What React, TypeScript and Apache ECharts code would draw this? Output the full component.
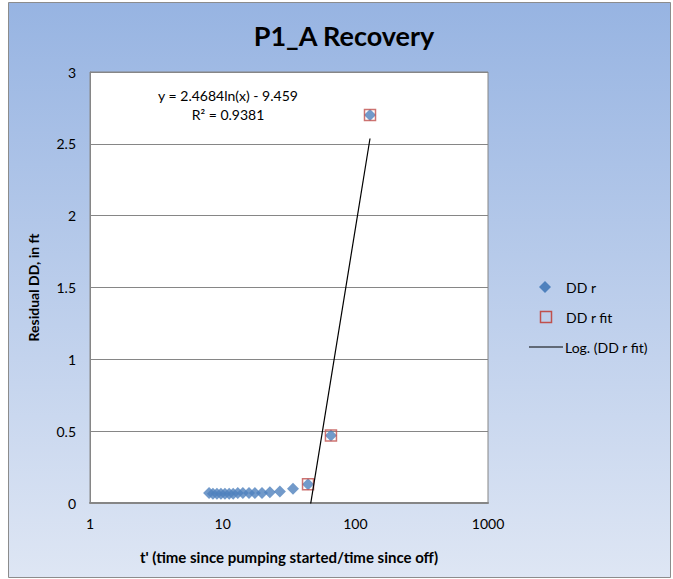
import { useEffect, useRef } from "react";
import * as echarts from "echarts";

const chartTitle = "P1_A Recovery";
const xAxisName = "t' (time since pumping started/time since off)";
const yAxisName = "Residual DD, in ft";

const ddrX = [7.9, 8.45, 9.05, 9.7, 10.4, 11.2, 12.0, 13.0, 14.2, 15.8, 17.5, 19.8, 22.7, 27.0, 33.9, 44.0, 65.5, 129];
const ddrY = [0.07, 0.065, 0.065, 0.065, 0.065, 0.065, 0.065, 0.07, 0.07, 0.07, 0.07, 0.07, 0.075, 0.08, 0.1, 0.13, 0.47, 2.7];
const fitX = [44.0, 65.5, 129];
const fitY = [0.13, 0.47, 2.7];
const trendA = 2.4684;
const trendB = -9.459;
const eqText = "y = 2.4684ln(x) - 9.459";
const r2Text = "R² = 0.9381";
const legendNames = ["DD r", "DD r fit", "Log. (DD r fit)"];

const FONT = "Lato, 'Liberation Sans', sans-serif";

export default function App() {
  const ref = useRef<HTMLDivElement>(null);
  useEffect(() => {
    if (!ref.current) return;
    const chart = echarts.init(ref.current, undefined, { renderer: "svg" });
    const xs = [fitX[0], fitX[fitX.length - 1]];
    const trend = xs.map((x) => [x, trendA * Math.log(x) + trendB]);
    const lgY = [287, 317, 347];
    const textStyle = (t: string) => ({
      text: t,
      fontFamily: FONT,
      fontSize: 14,
      fill: "#000",
      textAlign: "left",
      textVerticalAlign: "middle",
    });
    chart.setOption({
      animation: false,
      textStyle: { fontFamily: FONT, color: "#000" },
      title: {
        text: chartTitle,
        left: 339,
        top: 17,
        textAlign: "center",
        textStyle: { fontFamily: FONT, fontSize: 27, fontWeight: "bold", color: "#000" },
      },
      graphic: [
        {
          type: "rect",
          z: -10,
          silent: true,
          shape: { x: 8.5, y: 2.5, width: 662, height: 575 },
          style: {
            fill: new echarts.graphic.LinearGradient(0, 0, 0, 1, [
              { offset: 0, color: "#97b4e2" },
              { offset: 1, color: "#dee6f4" },
            ]),
            stroke: "#8c8c8c",
            lineWidth: 1,
          },
        },
        {
          type: "text",
          x: 228,
          y: 95,
          z: 10,
          style: { text: eqText, fontFamily: FONT, fontSize: 14, fill: "#000", textAlign: "center", textVerticalAlign: "middle" },
        },
        {
          type: "text",
          x: 228,
          y: 114,
          z: 10,
          style: { text: r2Text, fontFamily: FONT, fontSize: 14, fill: "#000", textAlign: "center", textVerticalAlign: "middle" },
        },
        {
          type: "polygon",
          z: 10,
          shape: { points: [[545, lgY[0] - 6], [551, lgY[0]], [545, lgY[0] + 6], [539, lgY[0]]] },
          style: { fill: "#4f81bd" },
        },
        {
          type: "rect",
          z: 10,
          shape: { x: 540.5, y: lgY[1] - 5.5, width: 11, height: 11 },
          style: { fill: "none", stroke: "#c0504d", lineWidth: 1.5 },
        },
        {
          type: "line",
          z: 10,
          shape: { x1: 529, y1: lgY[2], x2: 563, y2: lgY[2] },
          style: { stroke: "#000", lineWidth: 1.2 },
        },
        { type: "text", x: 566, y: lgY[0], z: 10, style: textStyle(legendNames[0]) },
        { type: "text", x: 566, y: lgY[1], z: 10, style: textStyle(legendNames[1]) },
        { type: "text", x: 565, y: lgY[2], z: 10, style: textStyle(legendNames[2]) },
      ],
      grid: {
        left: 90,
        top: 72,
        right: 185,
        bottom: 76,
        show: true,
        backgroundColor: "#ffffff",
        borderColor: "#868686",
        borderWidth: 1,
      },
      xAxis: {
        type: "log",
        logBase: 10,
        min: 1,
        max: 1000,
        name: xAxisName,
        nameLocation: "middle",
        nameGap: 46,
        nameTextStyle: { fontFamily: FONT, fontSize: 15, fontWeight: "bold", color: "#000" },
        axisLine: { show: true, lineStyle: { color: "#868686", width: 2 } },
        axisTick: { show: false },
        axisLabel: {
          fontFamily: FONT,
          fontSize: 14,
          color: "#000",
          margin: 13,
          formatter: (v: number) => String(Math.round(v)),
        },
        splitLine: { show: false },
        minorTick: { show: false },
      },
      yAxis: {
        type: "value",
        min: 0,
        max: 3,
        interval: 0.5,
        name: yAxisName,
        nameLocation: "middle",
        nameGap: 50,
        nameTextStyle: { fontFamily: FONT, fontSize: 14, fontWeight: "bold", color: "#000" },
        axisLine: { show: true, lineStyle: { color: "#868686", width: 1 } },
        axisTick: { show: false },
        axisLabel: { fontFamily: FONT, fontSize: 14, color: "#000", margin: 14 },
        splitLine: { show: true, lineStyle: { color: "#868686", width: 1 } },
      },
      series: [
        {
          name: legendNames[0],
          type: "scatter",
          symbol: "diamond",
          symbolSize: 12,
          itemStyle: { color: "#4f81bd" },
          data: ddrX.map((x, i) => [x, ddrY[i]]),
          z: 2,
        },
        {
          name: legendNames[1],
          type: "scatter",
          symbol: "rect",
          symbolSize: 11,
          itemStyle: { color: "rgba(0,0,0,0)", borderColor: "#c0504d", borderWidth: 1.5 },
          data: fitX.map((x, i) => [x, fitY[i]]),
          z: 3,
        },
        {
          name: legendNames[2],
          type: "line",
          symbol: "none",
          showSymbol: false,
          lineStyle: { color: "#000", width: 1.2 },
          itemStyle: { color: "#000" },
          data: trend,
          clip: true,
          z: 4,
        },
      ],
    });
    return () => chart.dispose();
  }, []);
  return (
    <div
      ref={ref}
      style={{ position: "fixed", left: 0, top: 0, width: 673, height: 579, background: "#fff" }}
    />
  );
}
